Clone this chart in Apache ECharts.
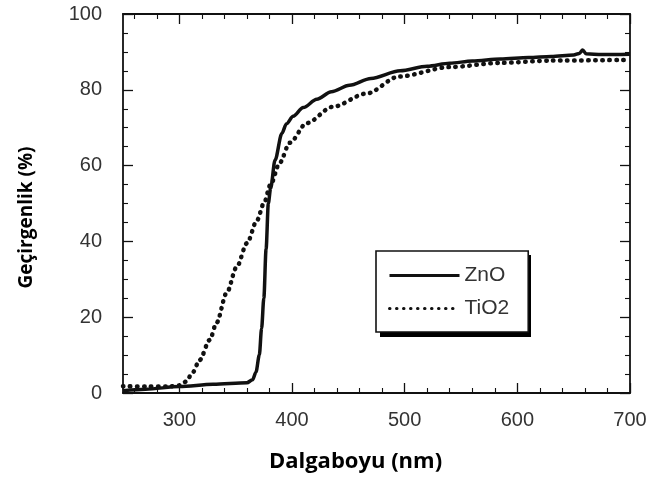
<!DOCTYPE html>
<html>
<head>
<meta charset="utf-8">
<script src="https://cdn.jsdelivr.net/npm/echarts@6/dist/echarts.min.js"></script>
<style>
  html, body { margin: 0; padding: 0; background: #fff; }
  #chart { width: 651px; height: 480px; }
</style>
</head>
<body>
<div id="chart"></div>
<script>
// ZnO transmittance (%) vs wavelength (nm)
const znoWl = [250, 270, 300, 330, 360, 365, 368, 371, 373, 375, 377, 379, 381, 385, 391, 395, 401, 410, 422, 435, 451, 470, 496, 520, 540, 560, 585, 610, 630, 650, 655, 658, 661, 675, 700]
const znoT = [0.6, 1.0, 1.7, 2.3, 2.7, 3.5, 5.5, 10, 17, 25, 38, 50, 54, 61.5, 68.5, 71, 73, 75.3, 77.5, 79.5, 81.2, 83, 85, 86.2, 87, 87.6, 88.1, 88.5, 88.8, 89.2, 89.6, 90.5, 89.5, 89.3, 89.4]

// TiO2 transmittance (%) vs wavelength (nm)
const tio2Wl = [250, 270, 290, 300, 306, 312, 318, 327, 333, 342, 351, 360, 369, 375, 381, 389, 398, 413, 436, 466, 495, 540, 585, 630, 700]
const tio2T = [1.8, 1.7, 1.7, 2.0, 3.0, 5.5, 8.7, 14, 18.5, 26.4, 33.3, 39.5, 45.6, 50, 55, 60.7, 66, 71.2, 75.5, 79, 83.5, 86, 87.1, 87.7, 87.9]

// x axis ticks: labelled every 100 nm, small ticks every 20 nm
const xMajorTicks = [300, 400, 500, 600, 700]
const xMinorTicks = [260, 280, 320, 340, 360, 380, 420, 440, 460, 480, 520, 540, 560, 580, 620, 640, 660, 680]

const seriesNames = ['ZnO', 'TiO2']
const xTitle = 'Dalgaboyu (nm)'
const yTitle = 'Geçirgenlik (%)'

const ink = '#111'
const labelInk = '#333'
const tickFont = { color: labelInk, fontSize: 20, fontFamily: 'Liberation Sans, Arial, sans-serif' }
const titleFont = 'Open Sans, Noto Sans, sans-serif'

// legend box (the shadow block is drawn behind it)
const legendBox = { left: 376, top: 251, width: 151, height: 82 }

const chart = echarts.init(document.getElementById('chart'), null, { renderer: 'canvas' })

const pairs = (xs, ys) => xs.map((x, i) => [x, ys[i]])

const axisLine = { show: true, lineStyle: { color: ink, width: 1.8 } }
const majorTick = { show: true, inside: true, length: 10, lineStyle: { color: ink, width: 1.3 } }
const minorTick = { show: true, inside: true, length: 5, lineStyle: { color: ink, width: 1.1 } }

function xAxisFor(position, withLabels) {
  const base = { type: 'value', position, min: 250, max: 700, splitLine: { show: false } }
  return [
    {
      ...base,
      axisLine,
      axisTick: { ...majorTick, customValues: xMajorTicks },
      axisLabel: withLabels
        ? { ...tickFont, margin: 17, customValues: xMajorTicks }
        : { show: false },
      ...(withLabels
        ? {
            name: xTitle,
            nameLocation: 'middle',
            nameGap: 58,
            nameTextStyle: { color: '#000', fontSize: 22, fontWeight: 'bold', fontFamily: titleFont, padding: [0, 42, 0, 0] },
          }
        : {}),
    },
    {
      ...base,
      axisLine: { show: false },
      axisTick: { ...minorTick, customValues: xMinorTicks },
      axisLabel: { show: false },
    },
  ]
}

function yAxisFor(position, withLabels) {
  return {
    type: 'value',
    position,
    min: 0,
    max: 100,
    interval: 20,
    splitLine: { show: false },
    axisLine,
    axisTick: majorTick,
    minorTick: { ...minorTick, splitNumber: 4 },
    axisLabel: withLabels ? { ...tickFont, margin: 21 } : { show: false },
    ...(withLabels
      ? {
          name: yTitle,
          nameLocation: 'middle',
          nameGap: 87,
          nameTextStyle: { color: '#000', fontSize: 19, fontWeight: 'bold', fontFamily: titleFont, padding: [0, 28, 0, 0] },
        }
      : {}),
  }
}

chart.setOption({
  animation: false,
  backgroundColor: '#fff',
  grid: { left: 123, right: 21, top: 14, bottom: 87 },
  graphic: [
    {
      type: 'rect',
      z: 1,
      shape: { x: legendBox.left + 4, y: legendBox.top + 4, width: legendBox.width, height: legendBox.height },
      style: { fill: '#000' },
    },
  ],
  legend: {
    data: seriesNames,
    orient: 'vertical',
    left: legendBox.left,
    top: legendBox.top,
    z: 10,
    padding: [14, 19, 13, 12],
    itemGap: 12,
    itemWidth: 70,
    itemHeight: 14,
    itemStyle: { opacity: 0 },
    lineStyle: { width: 3 },
    backgroundColor: '#fff',
    borderColor: ink,
    borderWidth: 1.6,
    textStyle: { color: labelInk, fontSize: 21, fontFamily: 'Liberation Sans, Arial, sans-serif' },
  },
  xAxis: [...xAxisFor('bottom', true), ...xAxisFor('top', false)],
  yAxis: [yAxisFor('left', true), yAxisFor('right', false)],
  series: [
    {
      name: seriesNames[0],
      type: 'line',
      smooth: 0.3,
      smoothMonotone: 'x',
      symbol: 'none',
      data: pairs(znoWl, znoT),
      lineStyle: { color: ink, width: 3.5 },
      itemStyle: { color: ink },
      z: 3,
    },
    {
      name: seriesNames[1],
      type: 'line',
      smooth: 0.3,
      smoothMonotone: 'x',
      symbol: 'none',
      data: pairs(tio2Wl, tio2T),
      lineStyle: { color: ink, width: 4.5, type: [0.5, 6.5], cap: 'round' },
      itemStyle: { color: ink },
      z: 2,
    },
  ],
})
</script>
</body>
</html>
